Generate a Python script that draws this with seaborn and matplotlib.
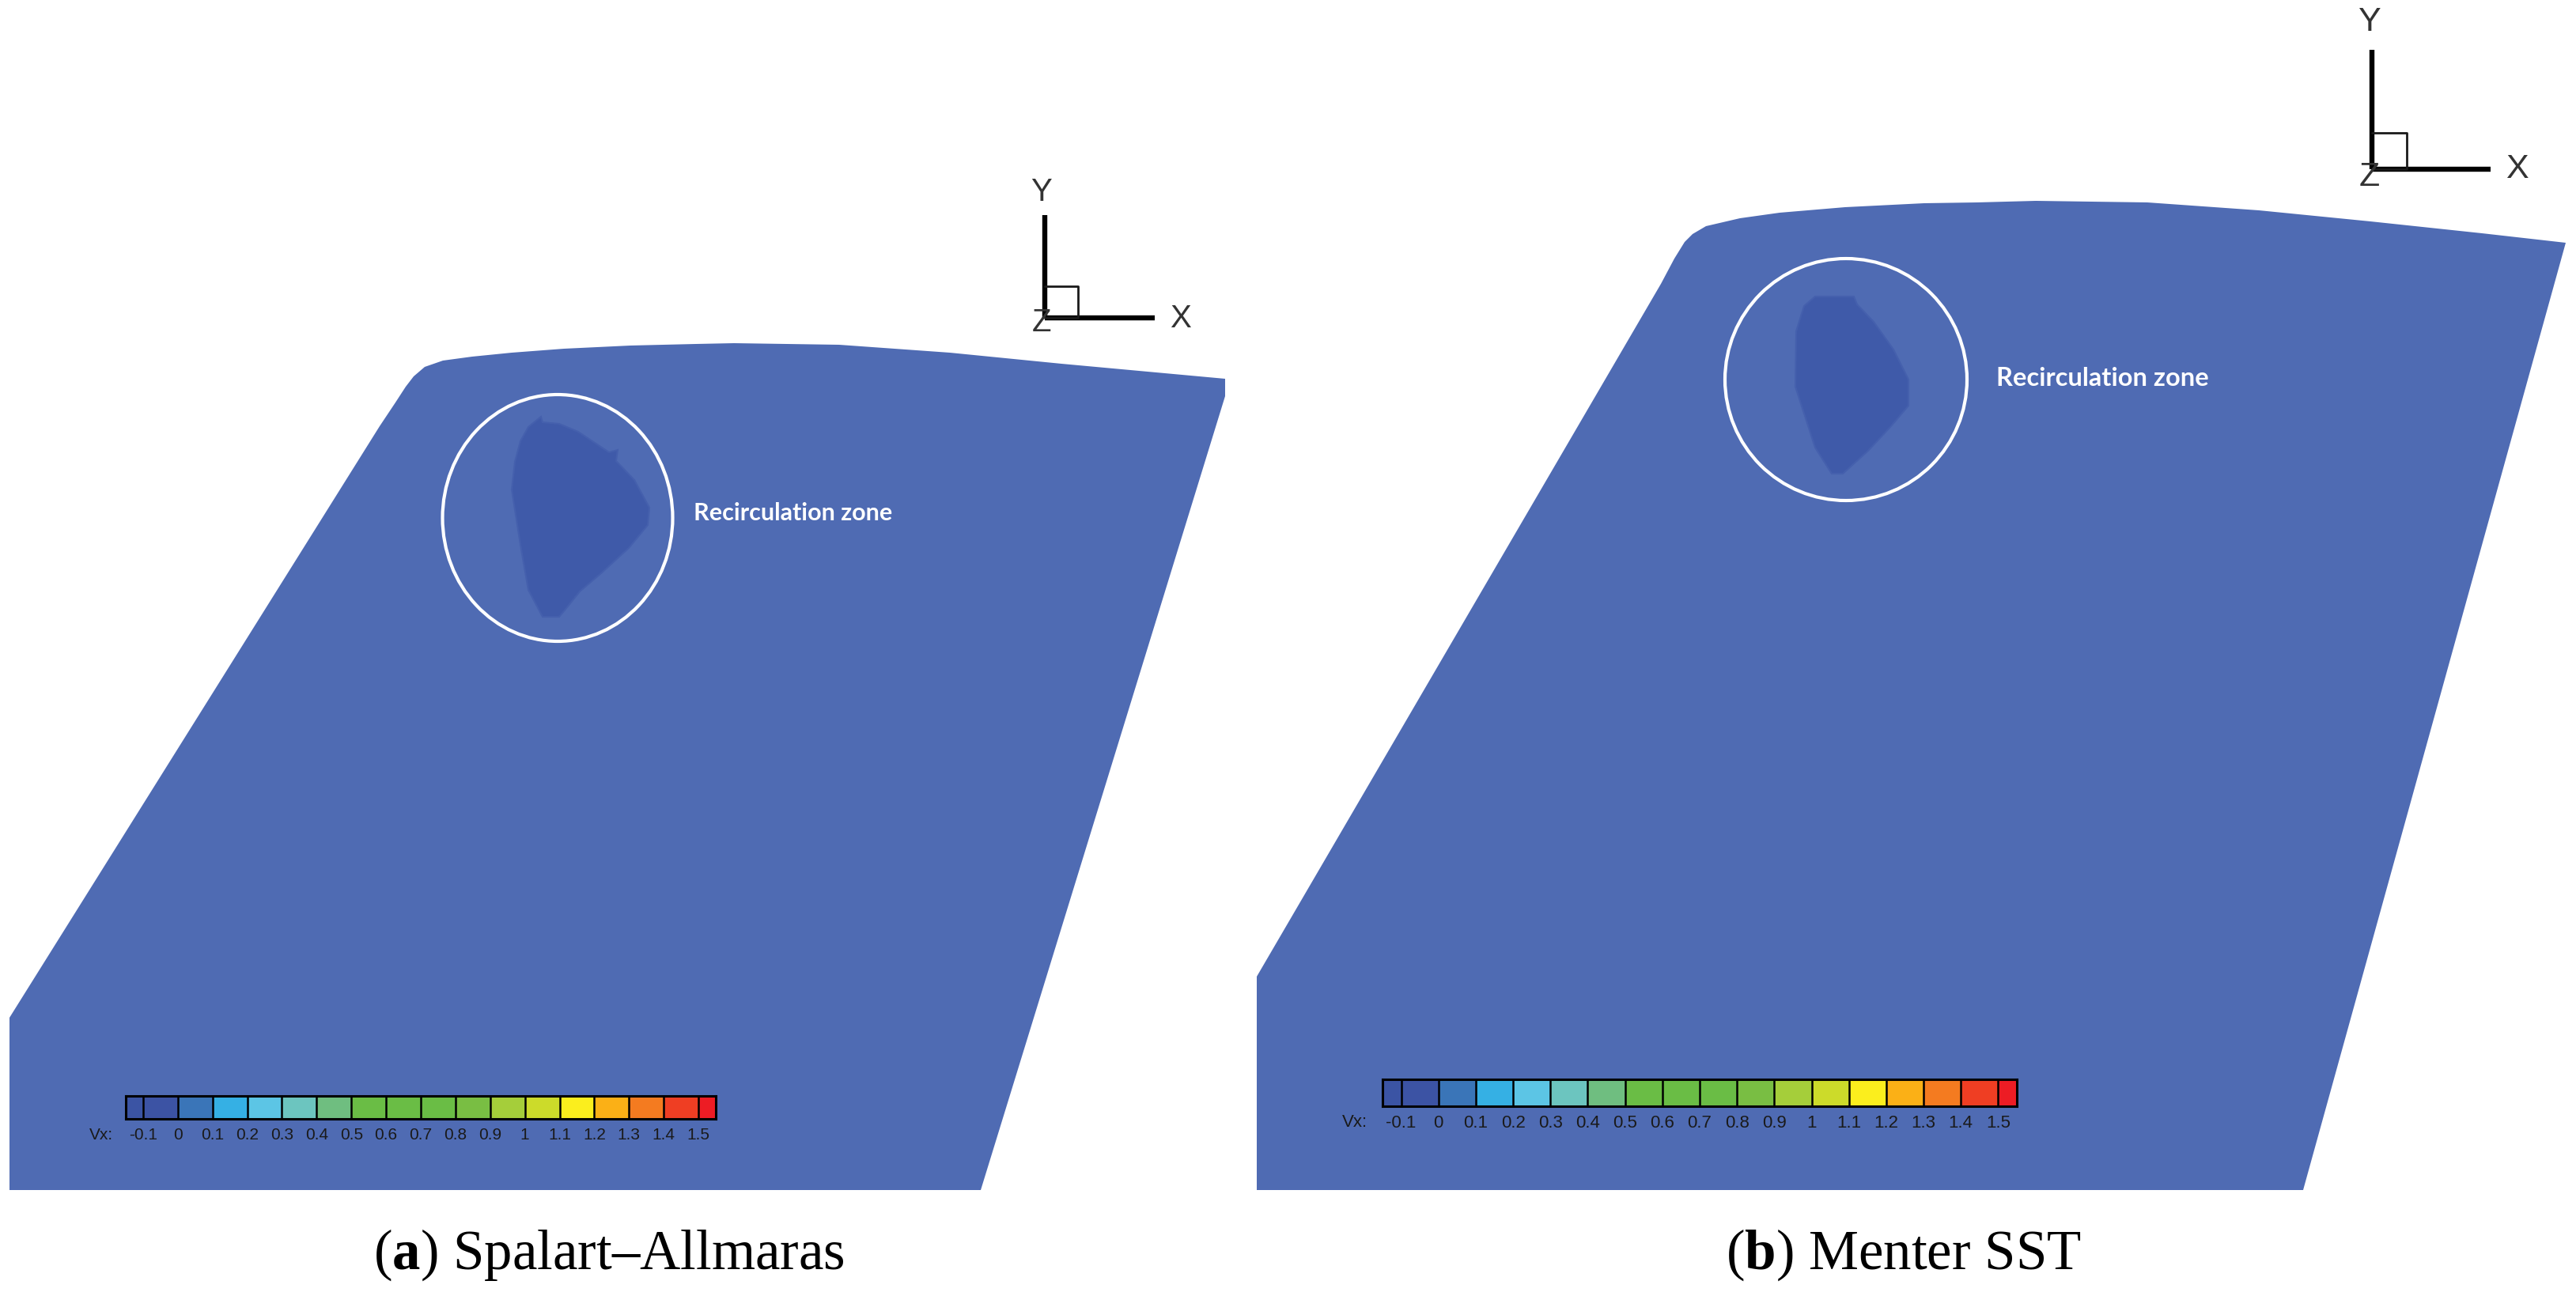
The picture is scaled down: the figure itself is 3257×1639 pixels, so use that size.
import matplotlib
matplotlib.use("Agg")
import matplotlib.pyplot as plt
from matplotlib.colors import ListedColormap
from matplotlib.patches import Ellipse
import numpy as np
import seaborn as sns

W, H = 3257, 1640

# outlines, in image pixels
top_a_x = [480, 500, 513, 523, 537, 560, 597, 647, 713, 797, 880, 928, 1061, 1201, 1342, 1549]
top_a_y = [540, 510, 490, 477, 465, 457, 452, 447, 442, 438, 436, 435, 437, 447, 461, 480]
rest_a_x = [1549, 1240, 12, 12]
rest_a_y = [502, 1506, 1506, 1288]
top_b_x = [2100, 2117, 2130, 2140, 2157, 2200, 2250, 2333, 2433, 2500, 2574, 2715, 2856, 2997, 3138, 3244]
top_b_y = [360, 328, 307, 297, 287, 277, 270, 263, 258, 257, 255, 257, 267, 281, 296, 308]
rest_b_x = [2912, 1589, 1589]
rest_b_y = [1506, 1506, 1236]

zone_a_x = [684, 686, 707, 731, 752, 770, 781, 779, 802, 821, 819, 795, 760, 733, 717, 707, 686, 668, 658, 647, 651, 658, 668]
zone_a_y = [528, 535, 537, 547, 561, 573, 570, 584, 608, 643, 665, 694, 726, 749, 769, 781, 781, 747, 690, 620, 585, 559, 541]
zone_b_x = [2295, 2344, 2348, 2369, 2394, 2413, 2413, 2390, 2362, 2330, 2316, 2295, 2270, 2271, 2281]
zone_b_y = [376, 376, 386, 408, 443, 481, 514, 541, 571, 600, 600, 567, 490, 420, 388]

vx_ticks = [-0.1, 0, 0.1, 0.2, 0.3, 0.4, 0.5, 0.6, 0.7, 0.8, 0.9, 1, 1.1, 1.2, 1.3, 1.4, 1.5]
vx_colors = ["#3b54a4", "#3c53a4", "#3a75b8", "#35b0e4", "#5cc5e5", "#6cc5bf",
             "#6fbe80", "#6abd45", "#6abd45", "#6abd45", "#79be43", "#a5ce3a",
             "#ccdb2a", "#fbee1d", "#fbb016", "#f47b20", "#ef3e23", "#ed1c24"]
# first and last band are half width
vx_widths = [1] + [2] * 16 + [1]

BLUE = "#4f6bb3"
BLUE_DARK = "#3f5aa9"

sns.set_theme(style="white")
plt.rcParams["mathtext.fontset"] = "custom"
plt.rcParams["mathtext.bf"] = "Liberation Serif:bold"
plt.rcParams["mathtext.rm"] = "Liberation Serif"

fig = plt.figure(figsize=(W / 100, H / 100), dpi=100, facecolor="white")
ax = fig.add_axes([0, 0, 1, 1])
ax.set_xlim(0, W)
ax.set_ylim(H, 0)
ax.axis("off")


def draw_wing(tx, ty, rx, ry, zx, zy, circle, label_xy, label_size):
    # filled with a dark rim on the outline, so no step where a rim would end
    ax.fill(tx + rx, ty + ry, facecolor=BLUE, edgecolor="none")
    ax.fill(zx, zy, facecolor=BLUE_DARK, edgecolor="#4560ad", lw=1.5)
    ax.add_patch(Ellipse(circle[:2], circle[2], circle[3], fill=False, ec="white", lw=3))
    ax.text(label_xy[0], label_xy[1], "Recirculation zone", color="white", fontsize=label_size,
            fontweight="bold", family="Lato", va="center", ha="left")


def draw_triad(x0, y0, y_top, x_end, box, lab_y, lab_x, lab_z, size):
    ax.plot([x0, x0], [y_top, y0], color="black", lw=4.6, solid_capstyle="butt")
    ax.plot([x0, x_end], [y0, y0], color="black", lw=4.6, solid_capstyle="butt")
    ax.plot([x0, x0 + box[0], x0 + box[0], x0], [y0 - box[1], y0 - box[1], y0, y0],
            color="#1a1a1a", lw=2)
    for txt, xy in zip("YXZ", [lab_y, lab_x, lab_z]):
        ax.text(xy[0], xy[1], txt, fontsize=size, color="#333333", ha="center", va="center",
                family="Liberation Sans")


def draw_bar(x0, x1, y0, y1, label_x, size):
    cax = fig.add_axes([x0 / W, 1 - y1 / H, (x1 - x0) / W, (y1 - y0) / H])
    cells = np.repeat(np.arange(len(vx_colors)), vx_widths).reshape(1, -1)
    sns.heatmap(cells, ax=cax, cmap=ListedColormap(vx_colors), cbar=False,
                vmin=-0.5, vmax=len(vx_colors) - 0.5, yticklabels=False)
    edges = np.cumsum(vx_widths)[:-1]
    cax.vlines(edges, 0, 1, color="black", lw=1.8)
    cax.set_xticks(edges)
    cax.set_xticklabels([str(t) for t in vx_ticks], rotation=0, fontsize=size,
                        color="#1a1a1a", family="Liberation Sans")
    cax.tick_params(axis="x", length=0, pad=7)
    for s in cax.spines.values():
        s.set_visible(True)
        s.set_color("black")
        s.set_linewidth(2.2)
    ax.text(label_x, y1 + 20, "Vx:", fontsize=size, color="#1a1a1a", ha="center", va="center",
            family="Liberation Sans")


draw_wing(top_a_x, top_a_y, rest_a_x, rest_a_y, zone_a_x, zone_a_y, (705, 656, 291, 312), (877, 649), 22)
draw_wing(top_b_x, top_b_y, rest_b_x, rest_b_y, zone_b_x, zone_b_y, (2334, 481, 306, 306), (2524, 479), 23.5)

draw_triad(1321, 403, 273, 1460, (42, 40), (1317, 243), (1493, 403), (1317, 408), 29)
draw_triad(2999, 215, 64, 3149, (44, 46), (2996, 28), (3182, 214), (2996, 224), 31)

draw_bar(159, 905, 1387, 1416, 128, 15)
draw_bar(1748, 2550, 1366, 1400, 1713, 16)

for cx, cap in [(770, r"($\mathbf{a}$) Spalart–Allmaras"), (2407, r"($\mathbf{b}$) Menter SST")]:
    ax.text(cx, 1587, cap, fontsize=51, color="black", ha="center", va="center",
            family="Liberation Serif")

fig.savefig("out.png", dpi=100)
